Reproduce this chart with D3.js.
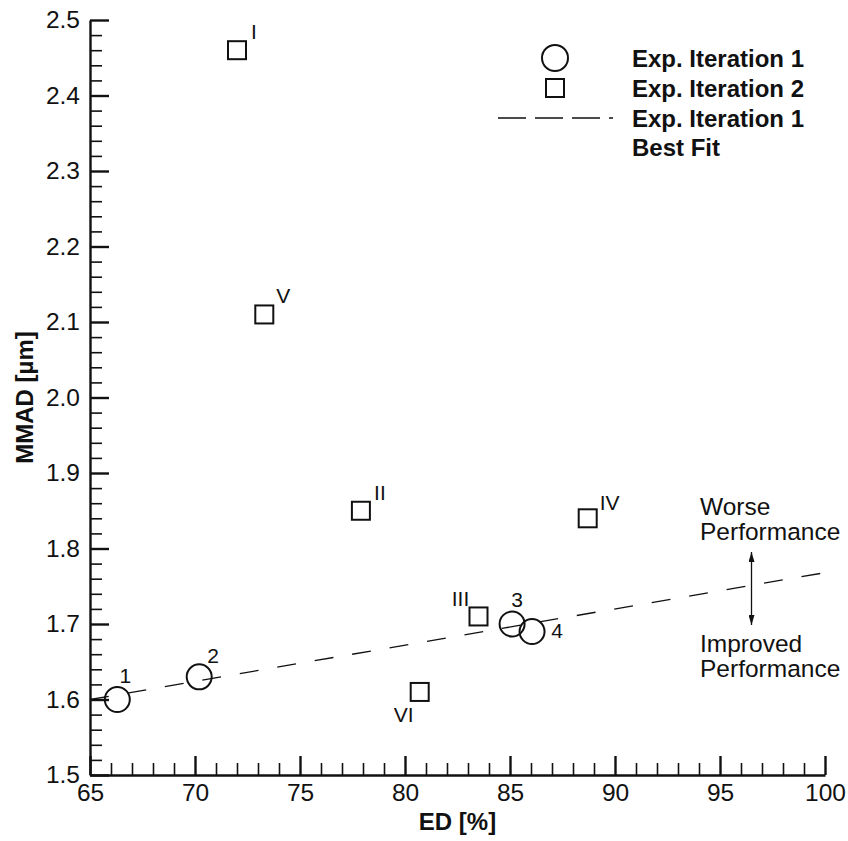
<!DOCTYPE html>
<html>
<head>
<meta charset="utf-8">
<script src="https://cdn.jsdelivr.net/npm/d3@7"></script>
<style>
  html, body { margin: 0; padding: 0; background: #fff; }
  svg { display: block; font-family: "Liberation Sans", Arial, sans-serif; }
</style>
</head>
<body>
<svg id="chart" width="848" height="841"></svg>
<script>
// Experimental iteration 1 (circles)
const iter1Labels = ["1", "2", "3", "4"];
const iter1ED = [66.3, 70.2, 85.1, 86.05];
const iter1MMAD = [1.60, 1.63, 1.70, 1.69];

// Experimental iteration 2 (squares)
const iter2Labels = ["I", "V", "II", "III", "VI", "IV"];
const iter2ED = [72.0, 73.3, 77.9, 83.5, 80.7, 88.7];
const iter2MMAD = [2.46, 2.11, 1.85, 1.71, 1.61, 1.84];

// Best fit through iteration 1 (end points)
const fitED = [65, 100];
const fitMMAD = [1.600, 1.768];

// Axis ticks
const xMajorTicks = [65, 70, 75, 80, 85, 90, 95, 100];
const yMajorTicks = [1.5, 1.6, 1.7, 1.8, 1.9, 2.0, 2.1, 2.2, 2.3, 2.4, 2.5];

const legendLabels = ["Exp. Iteration 1", "Exp. Iteration 2", "Exp. Iteration 1", "Best Fit"];

// ---- layout ----
const margin = { left: 90, right: 23, top: 20, bottom: 66 };
const W = 848, H = 841;
const svg = d3.select("#chart");

const x = d3.scaleLinear().domain([65, 100]).range([margin.left, W - margin.right]);
const y = d3.scaleLinear().domain([1.5, 2.5]).range([H - margin.bottom, margin.top]);

const xMinor = d3.range(65, 100.001, 1).filter(v => v % 5 !== 0);
const yMinor = d3.range(0, 51).map(i => +(1.5 + i * 0.02).toFixed(2))
  .filter(v => Math.abs(v * 10 - Math.round(v * 10)) > 1e-6);

const axisColor = "#111";

// minor ticks
svg.append("g")
  .attr("transform", `translate(0,${y(1.5)})`)
  .call(d3.axisBottom(x).tickValues(xMinor).tickSize(-12).tickFormat(""))
  .call(g => g.select(".domain").remove())
  .call(g => g.selectAll("line").attr("stroke", axisColor).attr("stroke-width", 1.6));

svg.append("g")
  .attr("transform", `translate(${x(65)},0)`)
  .call(d3.axisLeft(y).tickValues(yMinor).tickSize(-12).tickFormat(""))
  .call(g => g.select(".domain").remove())
  .call(g => g.selectAll("line").attr("stroke", axisColor).attr("stroke-width", 1.6));

// major ticks + labels
svg.append("g")
  .attr("transform", `translate(0,${y(1.5)})`)
  .call(d3.axisBottom(x).tickValues(xMajorTicks).tickSize(-19).tickSizeOuter(0).tickPadding(9).tickFormat(d3.format("d")))
  .call(g => g.select(".domain").attr("stroke", axisColor).attr("stroke-width", 2.4))
  .call(g => g.selectAll("line").attr("stroke", axisColor).attr("stroke-width", 2.4))
  .call(g => g.selectAll("text").attr("font-size", 24.5).attr("fill", "#111")
    .attr("font-family", "Liberation Sans, Arial, sans-serif"));

svg.append("g")
  .attr("transform", `translate(${x(65)},0)`)
  .call(d3.axisLeft(y).tickValues(yMajorTicks).tickSize(-19).tickSizeOuter(0).tickPadding(10).tickFormat(d3.format(".1f")))
  .call(g => g.select(".domain").attr("stroke", axisColor).attr("stroke-width", 2.4))
  .call(g => g.selectAll("line").attr("stroke", axisColor).attr("stroke-width", 2.4))
  .call(g => g.selectAll("text").attr("font-size", 24.5).attr("fill", "#111")
    .attr("font-family", "Liberation Sans, Arial, sans-serif"));

// axis titles
svg.append("text")
  .attr("x", (x(65) + x(100)) / 2).attr("y", 830)
  .attr("text-anchor", "middle").attr("font-size", 24).attr("font-weight", "bold")
  .attr("fill", "#111").text("ED [%]");

svg.append("text")
  .attr("transform", `translate(33,${(y(1.5) + y(2.5)) / 2}) rotate(-90)`)
  .attr("text-anchor", "middle").attr("font-size", 24).attr("font-weight", "bold")
  .attr("fill", "#111").text("MMAD [µm]");

// best fit line
svg.append("path")
  .datum(fitED.map((d, i) => [d, fitMMAD[i]]))
  .attr("d", d3.line().x(d => x(d[0])).y(d => y(d[1])))
  .attr("fill", "none").attr("stroke", "#111").attr("stroke-width", 1.3)
  .attr("stroke-dasharray", "19,19");

// iteration 1 circles
const iter1 = iter1Labels.map((l, i) => ({ label: l, ed: iter1ED[i], mmad: iter1MMAD[i] }));
svg.append("g").selectAll("circle").data(iter1).join("circle")
  .attr("cx", d => x(d.ed)).attr("cy", d => y(d.mmad)).attr("r", 12.5)
  .attr("fill", "none").attr("stroke", "#111").attr("stroke-width", 2);

// label offsets from marker centre
const iter1Offset = { "1": [8, -17], "2": [14, -14], "3": [5, -17], "4": [25, 6] };
svg.append("g").selectAll("text").data(iter1).join("text")
  .attr("x", d => x(d.ed) + iter1Offset[d.label][0])
  .attr("y", d => y(d.mmad) + iter1Offset[d.label][1])
  .attr("text-anchor", "middle").attr("font-size", 21).attr("fill", "#111")
  .text(d => d.label);

// iteration 2 squares
const iter2 = iter2Labels.map((l, i) => ({ label: l, ed: iter2ED[i], mmad: iter2MMAD[i] }));
const sq = 18;
svg.append("g").selectAll("rect").data(iter2).join("rect")
  .attr("x", d => x(d.ed) - sq / 2).attr("y", d => y(d.mmad) - sq / 2)
  .attr("width", sq).attr("height", sq)
  .attr("fill", "none").attr("stroke", "#111").attr("stroke-width", 2);

const iter2Offset = { "I": [17, -11], "V": [19, -11], "II": [19, -11], "III": [-18, -10], "VI": [-16, 30], "IV": [22, -8] };
svg.append("g").selectAll("text").data(iter2).join("text")
  .attr("x", d => x(d.ed) + iter2Offset[d.label][0])
  .attr("y", d => y(d.mmad) + iter2Offset[d.label][1])
  .attr("text-anchor", "middle").attr("font-size", 21).attr("fill", "#111")
  .text(d => d.label);

// legend
const legend = svg.append("g");
const rowY = [58, 88, 118, 147];
legend.append("circle").attr("cx", 555).attr("cy", rowY[0]).attr("r", 13)
  .attr("fill", "none").attr("stroke", "#111").attr("stroke-width", 2);
legend.append("rect").attr("x", 555 - 9).attr("y", rowY[1] - 9).attr("width", 18).attr("height", 18)
  .attr("fill", "none").attr("stroke", "#111").attr("stroke-width", 2);
legend.append("line").attr("x1", 498).attr("x2", 613).attr("y1", rowY[2]).attr("y2", rowY[2])
  .attr("stroke", "#111").attr("stroke-width", 1.3).attr("stroke-dasharray", "28,9");
legend.selectAll("text.lg").data(legendLabels).join("text")
  .attr("class", "lg")
  .attr("x", 632).attr("y", (d, i) => rowY[i] + 8.5)
  .attr("font-size", 24).attr("font-weight", "bold").attr("fill", "#111")
  .text(d => d);

// performance annotation: double-headed arrow
const defs = svg.append("defs");
defs.append("marker").attr("id", "ah").attr("viewBox", "0 0 10 6")
  .attr("refX", 10).attr("refY", 3).attr("markerWidth", 10).attr("markerHeight", 6)
  .attr("orient", "auto-start-reverse").attr("markerUnits", "userSpaceOnUse")
  .append("path").attr("d", "M0,0 L10,3 L0,6 Z").attr("fill", "#111");

const arrowX = x(96.5);
svg.append("line")
  .attr("x1", arrowX).attr("x2", arrowX).attr("y1", 552).attr("y2", 625)
  .attr("stroke", "#111").attr("stroke-width", 1.3)
  .attr("marker-start", "url(#ah)").attr("marker-end", "url(#ah)");

const annot = [["Worse", 515], ["Performance", 540], ["Improved", 652], ["Performance", 677]];
svg.append("g").selectAll("text").data(annot).join("text")
  .attr("x", 700).attr("y", d => d[1])
  .attr("font-size", 24.5).attr("fill", "#111")
  .text(d => d[0]);
</script>
</body>
</html>
